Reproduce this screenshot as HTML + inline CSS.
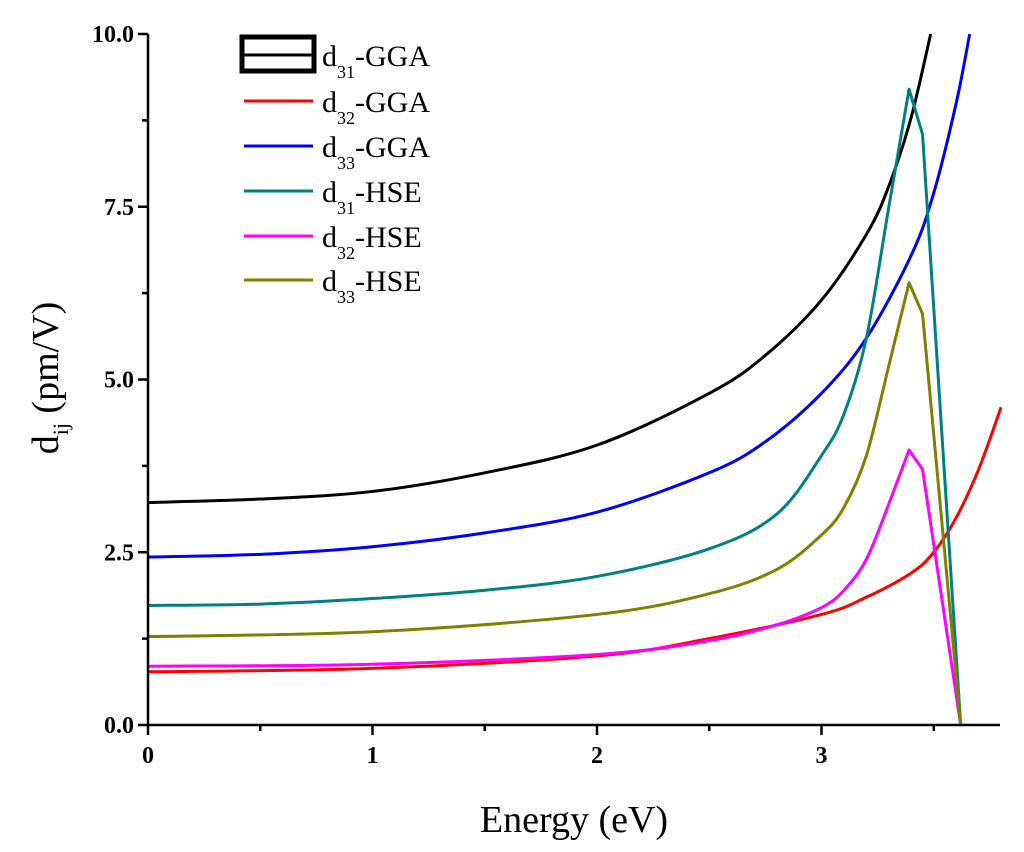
<!DOCTYPE html>
<html><head><meta charset="utf-8"><style>
body{margin:0;background:#fff}
svg text{font-family:"Liberation Serif",serif}
</style></head><body>
<svg id="c" width="1024" height="847" xmlns="http://www.w3.org/2000/svg"></svg>
<script>
const xTicks=[0,1,2,3];
const yTicks=[0.0,2.5,5.0,7.5,10.0];
const seriesNames=["d31-GGA","d32-GGA","d33-GGA","d31-HSE","d32-HSE","d33-HSE"];
const seriesColors=["#000000","#ff0000","#0000ff","#008080","#ff00ff","#808000"];
const e31g=[0,0.5,1,1.5,2,2.5,2.75,3,3.2,3.3,3.4,3.5];
const d31g=[3.22,3.27,3.38,3.65,4.05,4.8,5.35,6.15,7.1,7.8,8.8,10.2];
const e32g=[0,1,2,2.5,3,3.2,3.4,3.5,3.6,3.7,3.8];
const d32g=[0.77,0.82,1.0,1.25,1.6,1.85,2.2,2.5,3.0,3.7,4.6];
const e33g=[0,0.5,1,1.5,2,2.5,2.75,3,3.2,3.4,3.5,3.6,3.66];
const d33g=[2.43,2.47,2.58,2.78,3.08,3.65,4.1,4.8,5.6,6.8,7.7,9.0,10.0];
const e31h=[0,0.5,1,1.5,2,2.5,2.8,3,3.1,3.2,3.3,3.39,3.45,3.62];
const d31h=[1.73,1.75,1.83,1.95,2.15,2.55,3.05,3.9,4.5,5.6,7.5,9.2,8.55,0];
const e32h=[0,1,2,2.5,2.8,3,3.1,3.2,3.3,3.39,3.45,3.62];
const d32h=[0.85,0.88,1.02,1.22,1.45,1.7,1.95,2.4,3.2,3.98,3.7,0];
const e33h=[0,1,2,2.5,2.8,3,3.1,3.2,3.3,3.39,3.45,3.62];
const d33h=[1.28,1.35,1.6,1.9,2.25,2.75,3.15,3.9,5.2,6.4,5.95,0];
const xs=[e31g,e32g,e33g,e31h,e32h,e33h], ys=[d31g,d32g,d33g,d31h,d32h,d33h];
const X0=148,X1=1000,Y0=725,Y1=34;
const sx=v=>X0+v*224.5, sy=v=>Y0-(v/10)*(Y0-Y1);
const svg=document.getElementById('c'),NS="http://www.w3.org/2000/svg";
function mk(t,a,p){const e=document.createElementNS(NS,t);for(const k in a)e.setAttribute(k,a[k]);(p||svg).appendChild(e);return e;}
function pathD(ex,dy,smoothMax){
 const P=ex.map((v,j)=>[sx(v),sy(dy[j])]);
 let d='M'+P[0][0]+','+P[0][1];
 for(let i=0;i<P.length-1;i++){
  if(ex[i+1]<=smoothMax){
   const p0=P[Math.max(0,i-1)],p1=P[i],p2=P[i+1],p3=P[Math.min(P.length-1,i+2)];
   const c1=[p1[0]+(p2[0]-p0[0])/6,p1[1]+(p2[1]-p0[1])/6];
   const c2=[p2[0]-(p3[0]-p1[0])/6,p2[1]-(p3[1]-p1[1])/6];
   d+=' C'+c1+' '+c2+' '+p2;
  } else d+=' L'+P[i+1];
 }
 return d;
}
const defs=mk('defs',{});const cp=mk('clipPath',{id:'cl'},defs);mk('rect',{x:X0,y:Y1,width:X1-X0+2,height:Y0-Y1+1},cp);
const g=mk('g',{'clip-path':'url(#cl)'});


for(let i=0;i<6;i++){
 const p=mk('path',{d:pathD(xs[i],ys[i],i<3?99:3.3),fill:'none',stroke:seriesColors[i],'stroke-width':3,'stroke-linejoin':'round'},g);
 
 
}
const ax=mk('g',{stroke:'#000','stroke-width':2.5});


mk('line',{x1:X0,y1:Y1,x2:X0,y2:Y0},ax);
mk('line',{x1:X0,y1:Y0,x2:X1,y2:Y0},ax);
for(let v=0;v<=3.5;v+=0.5){const x=sx(v);mk('line',{x1:x,y1:Y0,x2:x,y2:Y0+(v%1===0?10:6)},ax);}
for(let v=0;v<=10;v+=1.25){const y=sy(v);mk('line',{x1:X0,y1:y,x2:X0-(v%2.5===0?10:6),y2:y},ax);}
xTicks.forEach(v=>{const t=mk('text',{x:sx(v),y:Y0+38,'text-anchor':'middle','font-size':24,'font-weight':'bold'});t.textContent=v;
 });
yTicks.forEach(v=>{const t=mk('text',{x:X0-14,y:sy(v)+8,'text-anchor':'end','font-size':24,'font-weight':'bold'});t.textContent=v.toFixed(1);
 });
const xt=mk('text',{x:574,y:832,'text-anchor':'middle','font-size':38});xt.textContent='Energy (eV)';

const yt=mk('text',{transform:'translate(58,378) rotate(-90)','text-anchor':'middle','font-size':38});
yt.innerHTML='d<tspan font-size="22" dy="10">ij</tspan><tspan dy="-10"> (pm/V)</tspan>';

const lg=mk('g',{});


const rows=[55,101,146,191,236,280];
seriesNames.forEach((n,i)=>{
 const e=mk('g',{},lg);
 
 
 if(i===0)mk('rect',{x:242,y:37,width:72,height:34,fill:'none',stroke:'#000','stroke-width':5},e);
 mk('line',{x1:244,y1:rows[i],x2:313,y2:rows[i],stroke:seriesColors[i],'stroke-width':3},e);
 const [a,b]=n.split('-');
 const t=mk('text',{x:322,y:rows[i]+11,'font-size':30},e);
 t.innerHTML='d<tspan font-size="18" dy="12">'+a.slice(1)+'</tspan><tspan dy="-12">-'+b+'</tspan>';
});
</script>
</body></html>
